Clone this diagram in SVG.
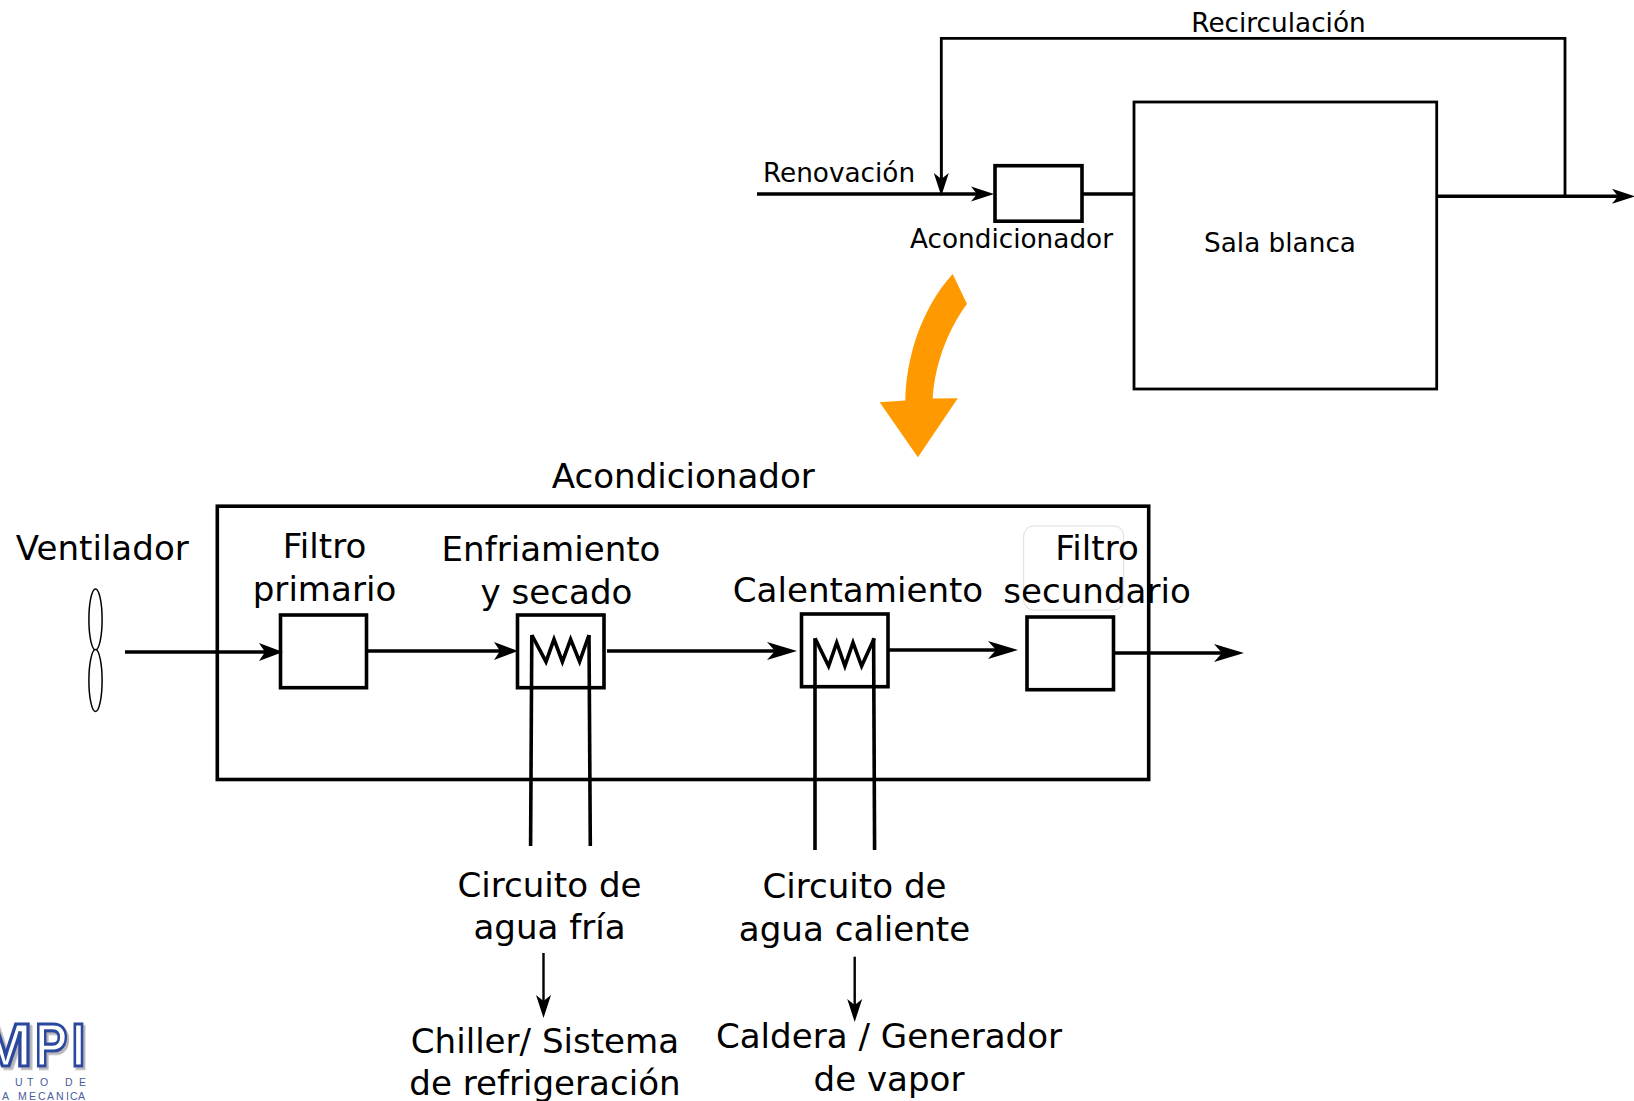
<svg xmlns="http://www.w3.org/2000/svg" width="1634" height="1101" viewBox="0 0 1634 1101">
<style>
text{font-family:"DejaVu Sans","Liberation Sans",sans-serif;fill:#000}
.b{font-size:34.1px;text-anchor:middle}
.s{font-size:26.3px;text-anchor:middle}
.box{fill:none;stroke:#000;stroke-width:3.6;stroke-linejoin:miter}
.thin{fill:none;stroke:#000;stroke-width:2.8}
.c{fill:none;stroke:#000;stroke-width:3.6}
.c2{fill:none;stroke:#000;stroke-width:2.4}
.coil{fill:none;stroke:#000;stroke-width:3.6;stroke-linejoin:miter}
text.fr{font-family:"Liberation Sans",sans-serif;font-weight:bold;font-size:61px;stroke-width:3.2;fill:#fff;stroke:#2c4a9e;filter:url(#sh)}
text.lt{font-family:"Liberation Sans",sans-serif;font-size:10.5px;fill:#4a5c9c}
</style>
<defs>
<filter id="sh" x="-20%" y="-20%" width="150%" height="150%"><feDropShadow dx="2.5" dy="2.5" stdDeviation="0" flood-color="#b5b5bb"/></filter>
<marker id="a1" markerUnits="userSpaceOnUse" markerWidth="24" markerHeight="18" refX="15" refY="9" orient="auto" overflow="visible"><path d="M24,9 L0,0 L6,9 L0,18Z"/></marker>
<marker id="b" markerUnits="userSpaceOnUse" markerWidth="30" markerHeight="18" refX="21" refY="9" orient="auto" overflow="visible"><path d="M30,9 L0,0 L8,9 L0,18Z"/></marker>
<marker id="m" markerUnits="userSpaceOnUse" markerWidth="23" markerHeight="15" refX="15" refY="7.5" orient="auto" overflow="visible"><path d="M23,7.5 L0,0 L6,7.5 L0,15Z"/></marker>
</defs>
<rect width="1634" height="1101" fill="#fff"/>

<g id="connectors">
<path class="thin" d="M941.3,187V38.4H1565V196"/>
<path class="c2" d="M941.3,120V188" marker-end="url(#m)"/>
<path class="c" d="M757,194H986" marker-end="url(#m)"/>
<path class="c" d="M1083,194H1134"/>
<path class="c" d="M1438,196.3H1627" marker-end="url(#m)"/>
<path class="c" d="M125,652H274" marker-end="url(#a1)"/>
<path class="c" d="M367,651H509" marker-end="url(#a1)"/>
<path class="c" d="M607,651H788" marker-end="url(#b)"/>
<path class="c" d="M888.6,650H1009" marker-end="url(#b)"/>
<path class="c" d="M1114,653H1235" marker-end="url(#b)"/>
<path class="c2" d="M543.5,953V1010" marker-end="url(#m)"/>
<path class="c2" d="M854.7,956.7V1014" marker-end="url(#m)"/>
<path class="c" d="M531.8,635L530.6,846"/>
<path class="c" d="M589,635L590.3,846"/>
<path class="c" d="M815,638.3V850"/>
<path class="c" d="M873.6,638.3L874.6,850"/>
</g>

<g id="sala-blanca">
<rect class="thin" x="1134" y="102" width="302.7" height="287"/>
<text class="s" x="1280" y="251.7">Sala blanca</text>
</g>
<g id="acondicionador-mini">
<rect class="box" x="995" y="165.7" width="87" height="55.5"/>
<text class="s" x="1011.5" y="248">Acondicionador</text>
</g>
<g id="label-recirculacion"><text class="s" x="1278.5" y="32">Recirculación</text></g>
<g id="label-renovacion"><text class="s" x="839" y="182">Renovación</text></g>

<g id="flecha-naranja">
<path fill="#ff9900" d="M952.7,274L967,304C951,325 935,360 932.7,398.5L957.8,398.2L917.9,457.2L879.7,402.2L905.3,400.5C906,360 920,310 952.7,274Z"/>
</g>

<g id="acondicionador">
<rect class="box" x="217.3" y="506.2" width="931.4" height="273.3"/>
<text class="b" x="683.3" y="488">Acondicionador</text>
</g>
<g id="ventilador">
<ellipse cx="95.5" cy="619.5" rx="6.6" ry="30.5" fill="#fff" stroke="#000" stroke-width="1.5"/>
<ellipse cx="95.5" cy="680.5" rx="6.6" ry="31" fill="#fff" stroke="#000" stroke-width="1.5"/>
<text class="b" x="102.3" y="560">Ventilador</text>
</g>
<g id="filtro-primario">
<rect class="box" x="280.5" y="615" width="86" height="72.7"/>
<text class="b" x="324.5" y="557.5">Filtro</text>
<text class="b" x="324.5" y="600.5">primario</text>
</g>
<g id="enfriamiento">
<rect class="box" x="517.5" y="615" width="86.5" height="72.7"/>
<path class="coil" d="M531.8,635L546,661.7L554,639.3L562.4,661.7L570.6,639.3L579.6,661.7L589,635"/>
<text class="b" x="551" y="560.5">Enfriamiento</text>
<text class="b" x="556.5" y="603.5">y secado</text>
</g>
<g id="calentamiento">
<rect class="box" x="801.5" y="614" width="86.5" height="72.7"/>
<path class="coil" d="M815,638.3L828.6,666L836.7,642.7L844.9,666L853,642.7L861.6,666L874.3,638.3"/>
<text class="b" x="858" y="601.5">Calentamiento</text>
</g>
<g id="filtro-secundario">
<rect x="1023.7" y="526" width="100" height="84" rx="10" fill="none" stroke="#dcdcdc" stroke-width="1"/>
<rect class="box" x="1027" y="617" width="86.5" height="72.7"/>
<text class="b" x="1097" y="559.5">Filtro</text>
<text class="b" x="1097" y="602.5">secundario</text>
</g>
<g id="circuito-fria">
<text class="b" x="549.5" y="896.5">Circuito de</text>
<text class="b" x="549.5" y="938.5">agua fría</text>
</g>
<g id="circuito-caliente">
<text class="b" x="854.5" y="898">Circuito de</text>
<text class="b" x="854.5" y="940.5">agua caliente</text>
</g>
<g id="chiller">
<text class="b" x="545" y="1052.5">Chiller/ Sistema</text>
<text class="b" x="545" y="1095">de refrigeración</text>
</g>
<g id="caldera">
<text class="b" x="889" y="1048">Caldera / Generador</text>
<text class="b" x="889" y="1090.5">de vapor</text>
</g>
<g id="logo">
<text class="fr" transform="translate(-21,1066) scale(1.05,1)">M</text>
<text class="fr" transform="translate(35,1066) scale(.8,1)">P</text>
<text class="fr" transform="translate(71.5,1066) scale(.82,1)">I</text>
<text class="lt" x="15 27 40" y="1086">UTO</text>
<text class="lt" x="65 79" y="1086">DE</text>
<text class="lt" x="2 12 18 29 38 47 56 66 70 78" y="1100">A MECANICA</text>
</g>
</svg>
